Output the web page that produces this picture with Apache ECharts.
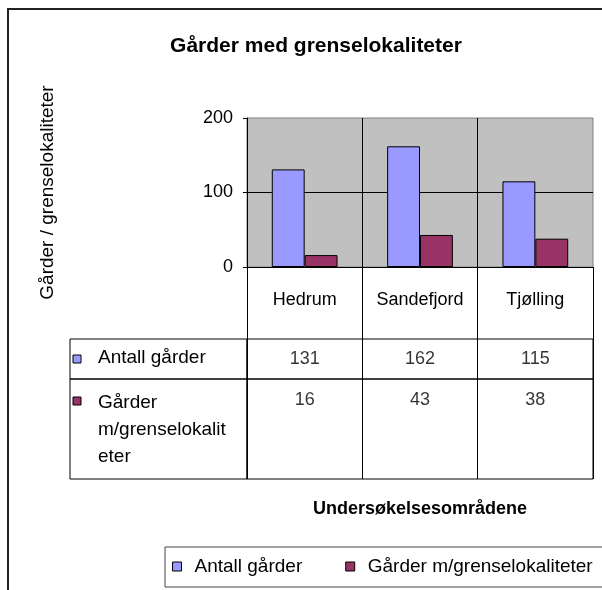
<!DOCTYPE html>
<html>
<head>
<meta charset="utf-8">
<script src="https://cdn.jsdelivr.net/npm/echarts@6/dist/echarts.min.js"></script>
<style>
html,body{margin:0;padding:0;background:#fff;}
#echart{width:602px;height:590px;}
</style>
</head>
<body>
<div id="echart"></div>
<script>
var categories = ['Hedrum', 'Sandefjord', 'Tjølling'];
var antallGarder = [131, 162, 115];
var garderGrense = [16, 43, 38];
var seriesNames = ['Antall gårder', 'Gårder m/grenselokaliteter'];
var rowLabels = ['Antall gårder', 'Gårder\nm/grenselokalit\neter'];
var yTicks = [0, 100, 200];

var blue = '#9999FF';
var maroon = '#993366';
var fnt = 'Liberation Sans, Arial, sans-serif';

var myChart = echarts.init(document.getElementById('echart'));

// table rows: grids below the plot sharing the same category split
function rowXAxis(idx){
	return {
		type: 'category', gridIndex: idx, data: categories,
		axisLine: {show: false}, axisTick: {show: false}, axisLabel: {show: false},
		splitLine: {show: true, lineStyle: {color: '#000', width: 1}}
	};
}
function rowYAxis(idx){
	return {type: 'value', gridIndex: idx, min: 0, max: 1, show: false};
}
function rowSeries(idx, vals, dist){
	return {
		type: 'scatter', xAxisIndex: idx, yAxisIndex: idx, symbolSize: 0, silent: true,
		data: vals.map(function(v, i){ return [i, 1, v]; }),
		label: {show: true, position: 'bottom', distance: dist, color: '#000',
			fontFamily: fnt, fontSize: 18,
			formatter: function(p){ return p.value[2]; }}
	};
}

var option = {
	animation: false,
	backgroundColor: '#fff',
	textStyle: {fontFamily: fnt},
	title: {
		text: 'Gårder med grenselokaliteter',
		left: 311, top: 31, textAlign: 'center',
		textStyle: {fontSize: 21, fontWeight: 'bold', color: '#000', fontFamily: fnt}
	},
	legend: {
		left: 165, top: 547, width: 600,
		data: seriesNames,
		itemWidth: 9, itemHeight: 9, itemGap: 43,
		icon: 'rect',
		borderColor: '#444', borderWidth: 1,
		padding: [10, 60, 11, 7],
		textStyle: {fontSize: 19, color: '#000', fontFamily: fnt, padding: [0, 0, 0, 8]},
		itemStyle: {borderColor: '#000', borderWidth: 1}
	},
	grid: [
		{left: 247, top: 118, width: 346, height: 149, show: true, backgroundColor: '#C0C0C0', borderColor: '#808080', borderWidth: 1},
		{left: 247, top: 267, width: 346, height: 72, show: false},
		{left: 247, top: 339, width: 346, height: 40, show: true, borderColor: '#000', borderWidth: 1},
		{left: 247, top: 379, width: 346, height: 100, show: true, borderColor: '#000', borderWidth: 1}
	],
	xAxis: [
		{
			type: 'category', gridIndex: 0, data: categories,
			axisLine: {lineStyle: {color: '#000'}}, axisTick: {show: false},
			axisLabel: {margin: 24, color: '#000', fontSize: 18, fontFamily: fnt},
			splitLine: {show: true, showMaxLine: false, lineStyle: {color: '#000'}}
		},
		{
			type: 'category', gridIndex: 1, data: categories,
			axisLine: {show: false}, axisTick: {show: false}, axisLabel: {show: false},
			splitLine: {show: true, lineStyle: {color: '#000'}}
		},
		rowXAxis(2),
		(function(){
			var a = rowXAxis(3);
			a.name = 'Undersøkelsesområdene';
			a.nameLocation = 'middle';
			a.nameGap = 21;
			a.nameTextStyle = {fontSize: 18, fontWeight: 'bold', color: '#000', fontFamily: fnt};
			return a;
		})()
	],
	yAxis: [
		{
			type: 'value', gridIndex: 0, min: yTicks[0], max: yTicks[yTicks.length - 1], interval: yTicks[1] - yTicks[0],
			name: 'Gårder / grenselokaliteter', nameLocation: 'middle', nameGap: 190,
			nameTextStyle: {fontSize: 19, color: '#000', fontFamily: fnt},
			axisLine: {show: true, lineStyle: {color: '#000'}},
			axisTick: {show: true, length: 4, lineStyle: {color: '#000'}},
			axisLabel: {margin: 14, color: '#000', fontSize: 18, fontFamily: fnt},
			splitLine: {show: true, showMaxLine: false, showMinLine: false, lineStyle: {color: '#000'}}
		},
		rowYAxis(1),
		rowYAxis(2),
		rowYAxis(3)
	],
	series: [
		{
			name: seriesNames[0], type: 'bar', xAxisIndex: 0, yAxisIndex: 0,
			data: antallGarder, barGap: '0%', barCategoryGap: '43%',
			itemStyle: {color: blue, borderColor: '#000', borderWidth: 1}
		},
		{
			name: seriesNames[1], type: 'bar', xAxisIndex: 0, yAxisIndex: 0,
			data: garderGrense, barGap: '0%', barCategoryGap: '43%',
			itemStyle: {color: maroon, borderColor: '#000', borderWidth: 1}
		},
		rowSeries(2, antallGarder, 11),
		rowSeries(3, garderGrense, 12)
	],
	graphic: [
		// outer chart frame
		{type: 'rect', shape: {x: 8, y: 9, width: 700, height: 700}, style: {fill: null, stroke: '#222', lineWidth: 2}, silent: true},
		// row header cells
		{type: 'rect', shape: {x: 70, y: 339, width: 177, height: 40}, style: {fill: null, stroke: '#000', lineWidth: 1}, silent: true},
		{type: 'rect', shape: {x: 70, y: 379, width: 177, height: 100}, style: {fill: null, stroke: '#000', lineWidth: 1}, silent: true},
		{type: 'rect', shape: {x: 73, y: 355, width: 8, height: 8}, style: {fill: blue, stroke: '#000', lineWidth: 1}, silent: true},
		{type: 'text', left: 98, top: 348, style: {text: rowLabels[0], font: '19px ' + fnt, fill: '#000'}, silent: true},
		{type: 'rect', shape: {x: 73, y: 397, width: 8, height: 8}, style: {fill: maroon, stroke: '#000', lineWidth: 1}, silent: true},
		{type: 'text', left: 98, top: 389, style: {text: rowLabels[1], font: '19px ' + fnt, fill: '#000', lineHeight: 27}, silent: true}
	]
};
myChart.setOption(option);
</script>
</body>
</html>
